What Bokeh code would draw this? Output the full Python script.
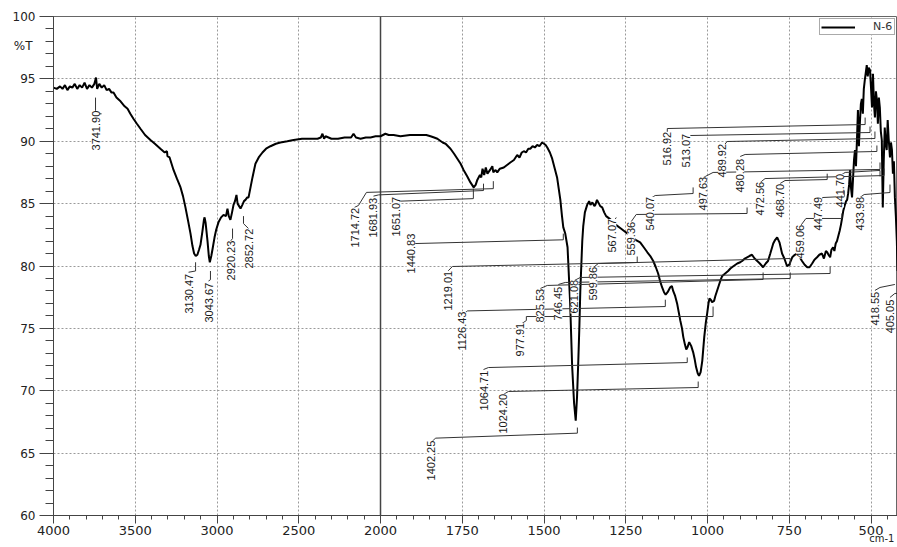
import math
from bokeh.plotting import figure
from bokeh.models import Range1d, FixedTicker, Span, LinearAxis, ColumnDataSource
from bokeh.core.properties import value
from bokeh.embed import file_html
from bokeh.resources import INLINE

# ---------------- data ----------------
wavenumber = [
    4000, 3980, 3960, 3945, 3930, 3915, 3900, 3885, 3870, 3855, 3840, 3825, 3810, 3795, 3780, 3765,
    3750, 3740, 3733, 3720, 3705, 3690, 3675, 3660, 3645, 3633, 3615, 3590, 3565, 3547, 3530, 3511,
    3490, 3468, 3440, 3407, 3380, 3346, 3320, 3306, 3303, 3290, 3266, 3245, 3223, 3208, 3193, 3178,
    3162, 3150, 3140, 3130, 3120, 3110, 3101, 3089, 3080, 3076, 3070, 3058, 3050, 3044, 3035, 3028,
    3015, 3005, 2991, 2975, 2960, 2945, 2936, 2928, 2918, 2908, 2899, 2890, 2881, 2874, 2865, 2856,
    2845, 2835, 2826, 2815, 2807, 2795, 2783, 2765, 2745, 2722, 2700, 2673, 2640, 2612, 2570, 2532,
    2480, 2420, 2385, 2365, 2355, 2345, 2336, 2300, 2260, 2220, 2180, 2165, 2150, 2122, 2090, 2061,
    2030, 2000, 1985, 1975, 1960, 1939, 1910, 1878, 1860, 1847, 1836, 1826, 1810, 1801, 1786, 1775,
    1765, 1755, 1746, 1735, 1725, 1715, 1709, 1704, 1696, 1692, 1688, 1683, 1678, 1673, 1665, 1658,
    1655, 1648, 1643, 1635, 1623, 1613, 1603, 1592, 1582, 1575, 1568, 1562, 1555, 1548, 1542, 1535,
    1528, 1521, 1514, 1506, 1500, 1495, 1490, 1482, 1475, 1467, 1460, 1455, 1450, 1445, 1441, 1435,
    1428, 1420, 1414, 1408, 1403, 1399, 1395, 1392, 1389, 1386, 1383, 1380, 1375, 1368, 1362, 1358,
    1352, 1346, 1343, 1338, 1334, 1328, 1322, 1316, 1310, 1300, 1291, 1280, 1265, 1250, 1236, 1220,
    1206, 1195, 1184, 1175, 1166, 1158, 1151, 1145, 1139, 1133, 1128, 1122, 1114, 1109, 1105, 1099,
    1093, 1088, 1083, 1078, 1074, 1069, 1065, 1061, 1056, 1050, 1044, 1039, 1035, 1030, 1026, 1021,
    1016, 1010, 1005, 1001, 997, 994, 990, 986, 980, 976, 971, 966, 961, 955, 946, 937,
    930, 920, 909, 900, 894, 886, 879, 872, 864, 856, 848, 840, 830, 822, 815, 808,
    799, 793, 787, 780, 772, 765, 757, 750, 741, 733, 726, 718, 711, 703, 695, 688,
    680, 673, 665, 658, 650, 644, 638, 634, 630, 625, 621, 616, 612, 608, 604, 600,
    596, 592, 588, 585, 580, 576, 573, 570, 567, 564, 561, 558, 555, 552, 549, 546,
    543, 540, 537, 534, 531, 528, 525, 522, 519, 516, 513, 510, 507, 503, 500, 497,
    494, 491, 488, 485, 482, 479, 476, 473, 470, 467, 464, 461, 458, 455, 452, 449,
    446, 442, 439, 436, 433, 430, 427, 424, 421, 419,
]
transmittance = [
    94.3, 94.2, 94.4, 94.2, 94.5, 94.1, 94.4, 94.3, 94.6, 94.2, 94.5, 94.3, 94.7, 94.2, 94.5, 94.3,
    94.6, 95.1, 94.2, 94.6, 94.3, 94.5, 94.1, 94.2, 93.9, 93.9, 93.5, 93.2, 92.8, 92.6, 92.2, 91.8,
    91.4, 91.0, 90.5, 90.1, 89.8, 89.4, 89.1, 89.2, 88.8, 88.7, 87.7, 87.0, 86.3, 85.6, 84.7, 83.7,
    82.6, 81.6, 81.0, 80.8, 80.9, 81.3, 81.7, 82.8, 83.7, 83.9, 83.5, 82.0, 80.8, 80.3, 80.8, 81.3,
    82.3, 82.9, 83.5, 83.9, 84.1, 84.0, 84.6, 84.0, 83.7, 84.3, 84.9, 85.2, 85.7, 85.0, 84.8, 84.6,
    84.9, 85.2, 85.3, 85.5, 85.5, 86.3, 87.1, 88.2, 88.7, 89.1, 89.4, 89.6, 89.8, 89.9, 90.0, 90.1,
    90.2, 90.2, 90.2, 90.3, 90.6, 90.2, 90.4, 90.2, 90.2, 90.3, 90.3, 90.6, 90.3, 90.2, 90.3, 90.3,
    90.4, 90.4, 90.6, 90.5, 90.5, 90.4, 90.5, 90.5, 90.5, 90.4, 90.3, 90.2, 89.9, 89.8, 89.4, 89.0,
    88.6, 88.2, 87.7, 87.2, 86.7, 86.3, 86.5, 86.9, 87.3, 87.1, 87.8, 87.3, 87.9, 87.4, 87.7, 88.0,
    87.5, 87.7, 87.5, 87.8, 87.9, 88.1, 88.3, 88.5, 88.9, 88.7, 89.1, 89.2, 89.1, 89.4, 89.4, 89.6,
    89.5, 89.7, 89.6, 89.9, 89.8, 89.7, 89.5, 89.1, 88.6, 87.8, 87.1, 86.2, 85.3, 84.0, 83.1, 82.6,
    81.5, 77.0, 72.0, 69.0, 67.6, 69.5, 72.5, 75.0, 78.0, 80.0, 82.0, 83.2, 84.3, 84.9, 85.2, 84.9,
    85.1, 84.8, 84.9, 85.3, 85.1, 84.8, 84.7, 84.3, 84.0, 83.8, 83.6, 83.3, 83.0, 82.7, 82.4, 82.1,
    81.9, 81.5, 81.1, 80.8, 80.4, 79.9, 79.4, 78.8, 78.3, 77.9, 77.7, 77.9, 78.3, 78.4, 78.0, 77.6,
    77.0, 76.3, 75.6, 75.0, 74.3, 73.7, 73.3, 73.5, 73.9, 73.6, 73.1, 72.5, 71.9, 71.4, 71.2, 71.5,
    72.4, 74.3, 75.5, 76.2, 77.0, 77.4, 77.3, 77.1, 77.2, 77.6, 78.0, 78.4, 78.8, 79.2, 79.4, 79.6,
    79.8, 80.0, 80.2, 80.3, 80.4, 80.6, 80.7, 80.8, 80.9, 80.6, 80.4, 80.2, 79.9, 80.2, 80.4, 81.0,
    81.8, 82.1, 82.3, 81.9, 81.0, 80.6, 80.0, 80.1, 80.7, 80.9, 81.0, 80.7, 80.4, 80.1, 79.9, 79.9,
    80.2, 80.5, 80.7, 80.9, 81.0, 80.6, 81.2, 81.1, 80.9, 80.7, 81.3, 81.5, 81.2, 81.8, 82.0, 82.4,
    82.8, 83.3, 83.9, 84.4, 84.9, 85.2, 85.3, 85.8, 86.5, 87.7, 86.2, 85.5, 87.0, 88.5, 89.3, 88.0,
    90.1, 92.5, 89.6, 91.5, 93.0, 93.4, 92.2, 94.2, 94.9, 95.5, 96.1, 95.2, 95.9, 95.7, 94.3, 92.7,
    95.4, 93.0, 91.9, 94.0, 93.3, 91.4, 93.5, 92.7, 90.8, 90.1, 84.7, 88.5, 91.1, 89.8, 89.3, 91.7,
    90.2, 88.7, 89.9, 89.3, 87.4, 88.4, 85.5, 84.0, 82.0, 79.6,
]

series_name = "N-6"

# peak labels (text = peak position reported by the instrument)
peak_labels = [
    "3741.90", "3130.47", "3043.67", "2920.23", "2852.72", "1714.72", "1681.93", "1651.07",
    "1440.83", "1402.25", "1219.01", "1126.43", "1064.71", "1024.20", "977.91", "825.53",
    "746.45", "621.08", "599.86", "567.07", "559.36", "540.07", "516.92", "513.07",
    "497.63", "489.92", "480.28", "472.56", "468.70", "459.06", "447.49", "441.70",
    "433.98", "418.55", "405.05",
]
# where each rotated label text starts (wavenumber, %T at its lower end)
label_wn = [
    3743, 3174, 3052, 2917, 2807, 2159, 2043, 1954,
    1908, 1847, 1795, 1750, 1685, 1624, 1572, 1511,
    1456, 1407, 1349, 1291, 1233, 1175, 1123, 1065,
    1013, 955, 900, 839, 778, 717, 662, 595,
    534, 488, 442,
]
label_t = [
    89.26, 76.19, 75.47, 78.84, 79.80, 81.48, 82.28, 82.36,
    79.40, 62.81, 76.43, 73.23, 68.42, 66.57, 72.75, 75.47,
    75.63, 76.19, 77.23, 81.08, 80.84, 82.85, 88.06, 87.90,
    84.45, 87.09, 85.89, 84.05, 83.89, 80.60, 82.85, 84.69,
    82.85, 75.23, 74.60,
]
# leader lines from each label to its band
leader_wn = [
    [3706, 3743, 3743], [3174, 3131, 3131], [3052, 3040, 3040], [2917, 2905, 2905],
    [2807, 2838, 2838], [2159, 2135, 2086, 1655, 1655], [2043, 2012, 1685, 1685],
    [1954, 1939, 1716, 1716], [1908, 1893, 1441, 1441], [1847, 1832, 1398, 1398],
    [1795, 1780, 1215, 1215], [1750, 1734, 1129, 1129], [1685, 1670, 1062, 1062],
    [1624, 1609, 1028.5, 1028.5], [1572, 1554, 1554, 983, 983], [1511, 1490, 830, 830],
    [1456, 1435, 747, 747], [1407, 1389, 625, 625], [1349, 1334, 747, 747],
    [1291, 1279], [1233, 1218, 879, 879], [1175, 1160, 1044, 1044],
    [1123, 1123, 518, 518], [1065, 1053, 503, 503], [1013, 983, 472.5, 472.5],
    [955, 940, 488, 488], [900, 885, 482, 482], [839, 824, 460, 460],
    [778, 763, 634, 634], [717, 699, 589, 589], [662, 647, 582, 582],
    [595, 579, 472.5, 472.5], [534, 521, 442, 442], [488, 472.5, 427], [442, 427, 411],
]
leader_t = [
    [92.2, 92.2, 93.5], [79.5, 79.6, 80.3], [78.8, 78.9, 79.6], [82.0, 82.2, 83.0],
    [83.0, 83.4, 84.0], [84.7, 84.85, 85.9, 86.2, 86.8], [85.6, 85.7, 86.05, 86.6],
    [85.0, 85.2, 85.4, 86.2], [81.6, 81.8, 82.1, 82.6], [65.8, 66.2, 66.6, 67.05],
    [79.56, 79.96, 80.28, 80.76], [76.1, 76.4, 76.75, 77.3], [71.7, 71.86, 72.26, 72.67],
    [69.7, 69.94, 70.26, 70.74], [75.31, 75.63, 75.95, 75.95, 76.75], [78.2, 78.44, 78.92, 79.48],
    [78.52, 78.68, 79.0, 79.48], [78.84, 79.08, 79.4, 79.96], [79.88, 80.2, 80.6, 80.04],
    [83.41, 83.89], [83.57, 84.13, 84.21, 84.69], [85.41, 85.65, 85.81, 86.3],
    [90.62, 91.02, 91.34, 91.9], [90.3, 90.46, 90.7, 91.18], [87.09, 87.5, 87.74, 88.3],
    [89.5, 89.98, 90.22, 90.78], [88.78, 88.94, 89.18, 89.66], [86.69, 87.01, 87.25, 87.82],
    [86.61, 86.85, 86.93, 87.4], [83.17, 83.81, 83.81, 84.21], [85.25, 85.49, 85.57, 86.05],
    [87.25, 87.5, 87.66, 87.18], [85.49, 85.73, 85.89, 86.53], [78.04, 78.28, 78.52],
    [77.48, 77.8, 77.8],
]

x_major = [4000, 3500, 3000, 2500, 2000, 1750, 1500, 1250, 1000, 750, 500]
x_minor = list(range(4000, 2000, -100)) + list(range(2000, 400, -50))
y_major = [60, 65, 70, 75, 80, 85, 90, 95, 100]
y_minor = list(range(60, 101))
x_view = (4000, 419)
y_view = (60, 100)
x_unit, x_unit_at = "cm-1", 467      # caption under the right end of the abscissa
y_unit, y_unit_at = "%T", 97.6       # caption beside the top of the ordinate


# FTIR split abscissa: 500 cm-1 per division above 2000 cm-1, 250 cm-1 below
def axis_pos(w):
    return (4000 - w) / 500.0 if w >= 2000 else 4 + (2000 - w) / 250.0


TICK_FONT = "DejaVu Sans"
PEAK_FONT = "Liberation Sans"

p = figure(width=897, height=547, output_backend="svg", toolbar_location=None,
           x_range=Range1d(axis_pos(x_view[0]), axis_pos(x_view[1])),
           y_range=Range1d(*y_view),
           min_border_left=53, min_border_right=0, min_border_top=16, min_border_bottom=32)
p.background_fill_color = "white"
p.border_fill_color = "white"
p.outline_line_color = "#666666"

# axes
p.xaxis.ticker = FixedTicker(ticks=[axis_pos(w) for w in x_major],
                             minor_ticks=[axis_pos(w) for w in x_minor])
p.xaxis.major_label_overrides = {axis_pos(w): str(w) for w in x_major}
p.yaxis.ticker = FixedTicker(ticks=y_major, minor_ticks=y_minor)
for ax in (p.xaxis[0], p.yaxis[0]):
    ax.axis_line_color = "#444444"
    ax.major_tick_line_color = "#444444"
    ax.minor_tick_line_color = "#444444"
    ax.major_tick_in = 0
    ax.minor_tick_in = 0
    ax.major_label_text_color = "#222222"
    ax.major_label_text_font = TICK_FONT
p.xaxis.major_tick_out = 8
p.xaxis.minor_tick_out = 4
p.xaxis.major_label_text_font_size = "13px"
p.xaxis.major_label_standoff = 2
p.yaxis.major_tick_out = 14
p.yaxis.minor_tick_out = 8
p.yaxis.major_label_text_font_size = "12px"
p.yaxis.major_label_standoff = 4

p.xgrid.grid_line_color = "#9a9a9a"
p.ygrid.grid_line_color = "#9a9a9a"
p.xgrid.grid_line_dash = "2 2"
p.ygrid.grid_line_dash = "2 2"

# unit captions, drawn as bare tick labels of two extra (line-less) axes
y_cap = LinearAxis(ticker=FixedTicker(ticks=[y_unit_at]),
                   major_label_overrides={y_unit_at: y_unit},
                   axis_line_color=None, major_tick_line_color=None, minor_tick_line_color=None,
                   major_tick_out=0, major_label_standoff=-23,
                   major_label_text_font=TICK_FONT, major_label_text_font_size="12px",
                   major_label_text_color="#222222")
p.add_layout(y_cap, "left")
x_cap = LinearAxis(ticker=FixedTicker(ticks=[axis_pos(x_unit_at)]),
                   major_label_overrides={axis_pos(x_unit_at): x_unit},
                   axis_line_color=None, major_tick_line_color=None, minor_tick_line_color=None,
                   major_tick_out=0, major_label_standoff=-5,
                   major_label_text_font=TICK_FONT, major_label_text_font_size="10px",
                   major_label_text_color="#222222")
p.add_layout(x_cap, "below")

p.add_layout(Span(location=axis_pos(2000), dimension="height", line_color="#444444",
                  line_width=1.5, level="underlay"))

# spectrum
spec = ColumnDataSource(dict(x=[axis_pos(w) for w in wavenumber], y=transmittance))
p.line("x", "y", source=spec, line_color="black", line_width=2, legend_label=series_name)

# leaders
p.multi_line(xs=[[axis_pos(w) for w in seg] for seg in leader_wn], ys=leader_t,
             line_color="#333333", line_width=1)

# rotated peak labels (white boxes mask what lies under them)
lab = ColumnDataSource(dict(x=[axis_pos(w) for w in label_wn], y=label_t, text=peak_labels))
p.text("x", "y", text="text", source=lab, angle=math.pi / 2, text_align="left",
       text_baseline="middle", text_font=value(PEAK_FONT), text_font_size="11px",
       text_color="#1a1a1a", background_fill_color="white")

# legend
lg = p.legend[0]
lg.location = "top_right"
lg.margin = 2
lg.padding = 1
lg.spacing = 0
lg.glyph_width = 34
lg.glyph_height = 10
lg.label_height = 10
lg.label_standoff = 18
lg.label_text_font = TICK_FONT
lg.label_text_font_size = "11px"
lg.label_text_color = "#333333"
lg.border_line_color = "#555555"
lg.background_fill_alpha = 1.0

open("out.html", "w").write(file_html(p, INLINE))
